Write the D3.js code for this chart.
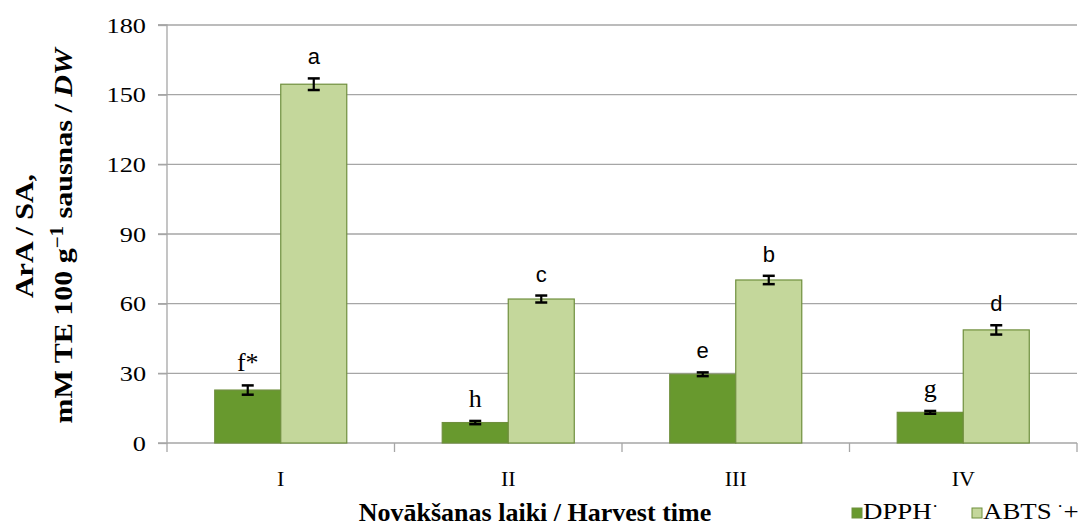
<!DOCTYPE html>
<html><head><meta charset="utf-8">
<script src="https://cdn.jsdelivr.net/npm/d3@7"></script>
<style>body{margin:0;background:#fff}svg{display:block}</style>
</head><body>
<script>
const categories = ["I", "II", "III", "IV"];
const seriesNames = ["DPPH", "ABTS"];
const dpphValues = [22.8, 8.8, 29.6, 13.2];
const abtsValues = [154.5, 62.0, 70.2, 48.7];
const dpphErrors = [2.0, 0.7, 0.8, 0.6];
const abtsErrors = [2.5, 1.5, 1.8, 2.0];
const dpphLetters = ["f*", "h", "e", "g"];
const abtsLetters = ["a", "c", "b", "d"];
const yTicks = [0, 30, 60, 90, 120, 150, 180];

const W = 1080, H = 528;
const svg = d3.select("body").append("svg").attr("width", W).attr("height", H);
const serif = "'Liberation Serif','Times New Roman',serif";
const sans = "'Liberation Sans',Arial,sans-serif";

const y = d3.scaleLinear().domain([0, 180]).range([443, 25]);
const x = d3.scaleBand().domain(categories).range([167, 1077]).paddingInner(0).paddingOuter(0);
const xs = d3.scaleBand().domain(seriesNames).range([0, x.bandwidth()]).paddingInner(0).paddingOuter(0.723);

const colors = {DPPH: "#68992e", ABTS: "#c4d79b"};
const series = [
  {name: "DPPH", values: dpphValues, errors: dpphErrors, letters: dpphLetters},
  {name: "ABTS", values: abtsValues, errors: abtsErrors, letters: abtsLetters}
];
const gridColor = "#a6a6a6";

// gridlines
svg.append("g").selectAll("line").data(yTicks.filter(d => d > 0)).join("line")
  .attr("x1", 158).attr("x2", 1077).attr("y1", d => y(d)).attr("y2", d => y(d))
  .attr("stroke", gridColor).attr("stroke-width", 1.3);

// y axis
const yAxis = d3.axisLeft(y).tickValues(yTicks).tickSize(9).tickPadding(12);
const gy = svg.append("g").attr("transform", "translate(167,0)").call(yAxis);
gy.select(".domain").attr("stroke", gridColor).attr("stroke-width", 1.3).attr("d", "M-9,25H0V443H-9");
gy.selectAll(".tick line").attr("stroke", gridColor).attr("stroke-width", 1.3);
gy.selectAll(".tick text").attr("font-family", serif).attr("font-size", 21).attr("fill", "#000")
  .attr("x", 0).attr("dy", "0.34em").attr("transform", "translate(-21,0) scale(1.25,1)");

// x axis
const xAxis = d3.axisBottom(x).tickSize(0).tickPadding(0);
const gx = svg.append("g").attr("transform", "translate(0,443)").call(xAxis);
gx.select(".domain").attr("stroke", gridColor).attr("stroke-width", 1.3).attr("d", "M167,0H1077");
gx.selectAll(".tick text").attr("font-family", serif).attr("font-size", 22).attr("fill", "#000")
  .attr("y", 43).attr("dy", 0);
const boundaries = categories.map(c => x(c)).concat([x(categories[categories.length - 1]) + x.bandwidth()]);
gx.append("g").selectAll("line").data(boundaries).join("line")
  .attr("x1", d => d).attr("x2", d => d).attr("y1", 0).attr("y2", 9)
  .attr("stroke", gridColor).attr("stroke-width", 1.3);

// bars
series.forEach(s => {
  const g = svg.append("g");
  g.selectAll("rect").data(categories).join("rect")
    .attr("x", c => x(c) + xs(s.name))
    .attr("y", (c, i) => y(s.values[i]))
    .attr("width", xs.bandwidth())
    .attr("height", (c, i) => y(0) - y(s.values[i]))
    .attr("fill", colors[s.name])
    .attr("stroke", "#6f8f3d").attr("stroke-width", 1.2);
});

// error bars & letters
series.forEach(s => {
  const g = svg.append("g");
  categories.forEach((c, i) => {
    const cx = x(c) + xs(s.name) + xs.bandwidth() / 2;
    const top = y(s.values[i] + s.errors[i]);
    const bot = y(s.values[i] - s.errors[i]);
    g.append("line").attr("x1", cx).attr("x2", cx).attr("y1", top).attr("y2", bot).attr("stroke", "#000").attr("stroke-width", 2.2);
    [top, bot].forEach(yy => g.append("line").attr("x1", cx - 6).attr("x2", cx + 6).attr("y1", yy).attr("y2", yy).attr("stroke", "#000").attr("stroke-width", 2.5));
    const letter = s.letters[i];
    const isSerif = ["f*", "h", "g"].includes(letter);
    g.append("text").attr("x", cx).attr("y", top - 14).attr("text-anchor", "middle")
      .attr("font-family", isSerif ? serif : sans).attr("font-size", isSerif ? 26 : 22).attr("fill", "#000")
      .text(letter);
  });
});

// y title
const yt = svg.append("text").attr("transform", "translate(0,236) rotate(-90) scale(1,0.85)")
  .attr("text-anchor", "middle").attr("font-family", serif).attr("font-size", 30).attr("font-weight", "bold").attr("fill", "#000");
yt.append("tspan").attr("x", 0).attr("y", 39).text("ArA / SA,");
yt.append("tspan").attr("x", 0).attr("y", 85).text("mM TE 100 g");
yt.append("tspan").attr("dy", -11).attr("font-size", 21).text("−1");
yt.append("tspan").attr("dy", 11).text(" sausnas / ");
yt.append("tspan").attr("font-style", "italic").text("DW");

// x title
svg.append("text").attr("x", 535).attr("y", 521).attr("text-anchor", "middle")
  .attr("font-family", serif).attr("font-size", 26).attr("font-weight", "bold").attr("fill", "#000")
  .text("Novākšanas laiki / Harvest time");

// legend
const legend = svg.append("g");
const legendItems = [
  {name: "DPPH", x: 852, parts: ["DPPH", "˙", ""]},
  {name: "ABTS", x: 972, parts: ["ABTS", " ˙", "+"]}
];
legendItems.forEach(it => {
  legend.append("rect").attr("x", it.x).attr("y", 508).attr("width", 10).attr("height", 10)
    .attr("fill", colors[it.name]).attr("stroke", "#6f8f3d").attr("stroke-width", 1);
  const t = legend.append("text").attr("transform", `translate(${it.x + 11},519) scale(1.12,1)`)
    .attr("font-family", serif).attr("font-size", 24).attr("fill", "#000");
  t.append("tspan").text(it.parts[0]);
  t.append("tspan").attr("font-size", 18).attr("dy", -1).text(it.parts[1]);
  t.append("tspan").attr("dy", 1).text(it.parts[2]);
});
</script>
</body></html>
